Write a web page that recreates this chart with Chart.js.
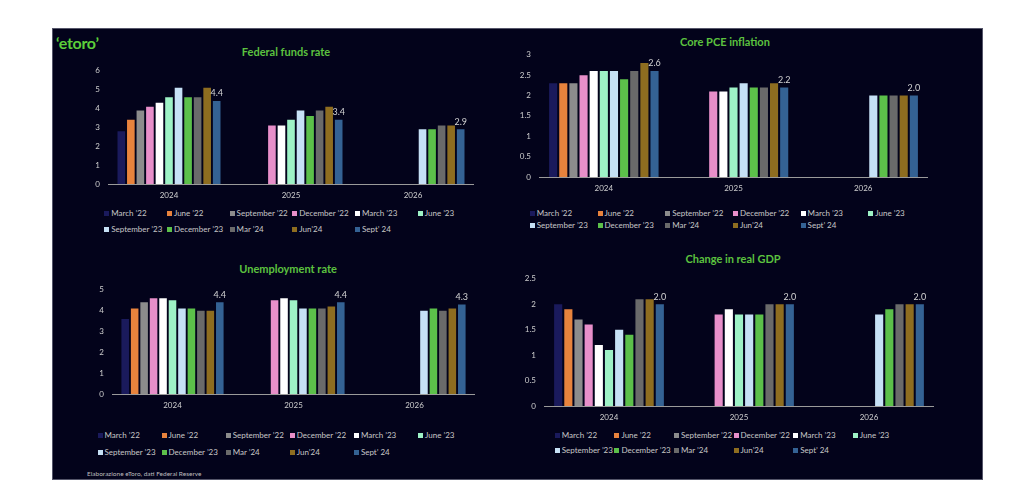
<html>
<head>
<title>Fed projections</title>
<meta charset="utf-8">
<script src="https://cdn.jsdelivr.net/npm/chart.js@4.4.1/dist/chart.umd.min.js"></script>
<style>
  body { margin: 0; background: #fff; width: 1024px; height: 491px; position: relative; overflow: hidden; font-family: Lato, sans-serif; }
  #panel { position: absolute; left: 52px; top: 28px; width: 929px; height: 450px; background: #03031b; border: 1px solid #55566a; }
  .abs { position: absolute; }
  .title { position: absolute; color: #5cc23f; font-weight: bold; font-size: 11px; transform: translate(-50%, -50%); white-space: nowrap; }
  .leg { position: absolute; font-size: 8px; color: #c8c8c8; white-space: nowrap; transform: translateY(-50%); line-height: 10px; }
  .leg i { display: inline-block; width: 5px; height: 5px; margin-right: 2px; vertical-align: 0px; }
  #logo { position: absolute; left: 56px; top: 33px; color: #5ccf3a; font: bold 16px Lato, sans-serif; letter-spacing: -0.3px; }
  #source { position: absolute; left: 87px; top: 470px; font-size: 6.5px; color: #bdbdbd; }
</style>
</head>
<body>
<div id="panel"></div>
<div id="logo">‘etoro’</div>

<div class="title" style="left:286px;top:51px">Federal funds rate</div>
<div class="title" style="left:725px;top:41px">Core PCE inflation</div>
<div class="title" style="left:288px;top:268px">Unemployment rate</div>
<div class="title" style="left:733px;top:258px">Change in real GDP</div>

<canvas id="fedChart" class="abs" width="394" height="146" style="left:80px;top:58px"></canvas>
<canvas id="pceChart" class="abs" width="418" height="155" style="left:510px;top:42px"></canvas>
<canvas id="unempChart" class="abs" width="391" height="137" style="left:84px;top:277px"></canvas>
<canvas id="gdpChart" class="abs" width="419" height="160" style="left:515px;top:266px"></canvas>

<div id="source">Elaborazione eToro, dati Federal Reserve</div>

<script>
// categories and series (FOMC projection rounds)
var categories = ['2024', '2025', '2026'];
var seriesNames = ['March ’22', 'June ’22', 'September ’22', 'December ’22', 'March ’23', 'June ’23',
                   'September ’23', 'December ’23', 'Mar ’24', 'Jun’24', 'Sept’ 24'];
var seriesColors = ['#1a1a5c', '#e8833d', '#8c8c8c', '#e88fca', '#ffffff', '#9ef2c6',
                    '#c6e1f6', '#5cc04a', '#6a6a6a', '#8e6d20', '#346294'];

// Federal funds rate
var fed2024 = [2.8, 3.4, 3.9, 4.1, 4.3, 4.6, 5.1, 4.6, 4.6, 5.1, 4.4];
var fed2025 = [null, null, null, 3.1, 3.1, 3.4, 3.9, 3.6, 3.9, 4.1, 3.4];
var fed2026 = [null, null, null, null, null, null, 2.9, 2.9, 3.1, 3.1, 2.9];

// Core PCE inflation
var pce2024 = [2.3, 2.3, 2.3, 2.5, 2.6, 2.6, 2.6, 2.4, 2.6, 2.8, 2.6];
var pce2025 = [null, null, null, 2.1, 2.1, 2.2, 2.3, 2.2, 2.2, 2.3, 2.2];
var pce2026 = [null, null, null, null, null, null, 2.0, 2.0, 2.0, 2.0, 2.0];

// Unemployment rate
var unemp2024 = [3.6, 4.1, 4.4, 4.6, 4.6, 4.5, 4.1, 4.1, 4.0, 4.0, 4.4];
var unemp2025 = [null, null, null, 4.5, 4.6, 4.5, 4.1, 4.1, 4.1, 4.2, 4.4];
var unemp2026 = [null, null, null, null, null, null, 4.0, 4.1, 4.0, 4.1, 4.3];

// Change in real GDP
var gdp2024 = [2.0, 1.9, 1.7, 1.6, 1.2, 1.1, 1.5, 1.4, 2.1, 2.1, 2.0];
var gdp2025 = [null, null, null, 1.8, 1.9, 1.8, 1.8, 1.8, 2.0, 2.0, 2.0];
var gdp2026 = [null, null, null, null, null, null, 1.8, 1.9, 2.0, 2.0, 2.0];

Chart.defaults.font.family = 'Lato';
Chart.defaults.color = '#cfcfcf';

// value label over the latest projection only
var lastLabel = {
  id: 'lastLabel',
  afterDatasetsDraw: function(chart) {
    var ctx = chart.ctx;
    var i = chart.data.datasets.length - 1;
    var meta = chart.getDatasetMeta(i);
    ctx.save();
    ctx.fillStyle = '#d4d4d4';
    ctx.font = '9px Lato';
    ctx.textAlign = 'center';
    ctx.textBaseline = 'bottom';
    meta.data.forEach(function(bar, j) {
      var v = chart.data.datasets[i].data[j];
      if (v == null) return;
      ctx.fillText(v.toFixed(1), bar.x, bar.y - 3);
    });
    ctx.restore();
  }
};

function makeChart(id, rows, yMax, yStep, yWidth) {
  var datasets = seriesNames.map(function(name, s) {
    return {
      label: name,
      data: rows.map(function(r) { return r[s]; }),
      backgroundColor: seriesColors[s],
      categoryPercentage: 0.86,
      barPercentage: 0.8
    };
  });
  return new Chart(document.getElementById(id), {
    type: 'bar',
    data: { labels: categories, datasets: datasets },
    options: {
      responsive: false,
      animation: false,
      layout: { padding: { top: 7, left: 0, right: 0, bottom: 0 } },
      plugins: { legend: { display: false }, tooltip: { enabled: false } },
      scales: {
        x: {
          grid: { display: false, drawTicks: false },
          border: { display: true, color: '#9a9a9a', width: 1 },
          ticks: { padding: 7, font: { size: 8 }, color: '#cfcfcf' },
          afterFit: function(scale) { scale.height = 20; }
        },
        y: {
          min: 0, max: yMax,
          grid: { display: false, drawTicks: false },
          border: { display: false },
          ticks: {
            stepSize: yStep, padding: 8, font: { size: 8 }, color: '#cfcfcf',
            callback: function(v) { return String(Math.round(v * 10) / 10); }
          },
          afterFit: function(scale) { scale.width = yWidth; }
        }
      }
    },
    plugins: [lastLabel]
  });
}

makeChart('fedChart', [fed2024, fed2025, fed2026], 6, 1, 28);
makeChart('pceChart', [pce2024, pce2025, pce2026], 3, 0.5, 29);
makeChart('unempChart', [unemp2024, unemp2025, unemp2026], 5, 1, 28);
makeChart('gdpChart', [gdp2024, gdp2025, gdp2026], 2.5, 0.5, 29);

// legends laid out as a 6-column grid like the original
function makeLegend(x0, dx, y1, y2) {
  seriesNames.forEach(function(name, s) {
    var d = document.createElement('div');
    d.className = 'leg';
    d.style.left = (x0 + (s % 6) * dx - 2.5) + 'px';
    d.style.top = (s < 6 ? y1 : y2) + 'px';
    d.innerHTML = '<i style="background:' + seriesColors[s] + '"></i>' + name;
    document.body.appendChild(d);
  });
}
makeLegend(106.7, 62.7, 213.3, 228.7);
makeLegend(532.3, 67.7, 213.3, 225.3);
makeLegend(100, 64.1, 435.3, 451.7);
makeLegend(557.3, 59.6, 435, 450.3);
</script>
</body>
</html>
